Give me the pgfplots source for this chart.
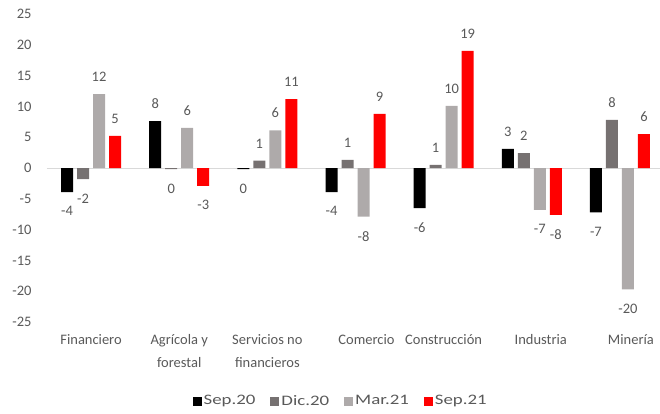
\documentclass[border=0pt]{standalone}
\usepackage{pgfplots}
\pgfplotsset{compat=1.18}
\usepackage{pgfplotstable}
\usepackage{fontspec}
\setmainfont{Carlito}
\newfontfamily\legfont[FakeStretch=1.3]{Carlito}
\definecolor{txt}{HTML}{595959}
\definecolor{cA}{HTML}{000000}
\definecolor{cB}{HTML}{767171}
\definecolor{cC}{HTML}{AEAAAA}
\definecolor{cD}{HTML}{FF0000}
\definecolor{zl}{HTML}{D9D9D9}

\pgfplotstableread{
x y lab
0 -3.9 -4
1 7.6 8
2 -0.2 0
3 -3.9 -4
4 -6.5 -6
5 3.1 3
6 -7.2 -7
}\sepA
\pgfplotstableread{
x y lab
0 -1.8 -2
1 -0.2 0
2 1.2 1
3 1.3 1
4 0.5 1
5 2.4 2
6 7.8 8
}\dicB
\pgfplotstableread{
x y lab
0 12.0 12
1 6.5 6
2 6.1 6
3 -7.9 -8
4 10.1 10
5 -6.8 -7
6 -19.7 -20
}\marC
\pgfplotstableread{
x y lab
0 5.2 5
1 -2.9 -3
2 11.2 11
3 8.8 9
4 19.0 19
5 -7.6 -8
6 5.5 6
}\sepD

\begin{document}
\begin{tikzpicture}
\begin{axis}[
  scale only axis, width=617pt, height=308pt,
  ymin=-25, ymax=25, ytick={-25,-20,...,25},
  xmin=-0.5, xmax=6.5, xtick={0,...,6},
  xticklabels={Financiero,{Agrícola y\\forestal},{Servicios no\\financieros},\hspace*{22pt}Comercio,Construcción,\hspace*{18pt}Industria,\hspace*{22pt}Minería},
  axis line style={draw=none},
  major tick length=0pt,
  ybar=4pt, bar width=12pt,
  font=\fontsize{14.5}{23}\selectfont,
  /pgf/number format/assume math mode=true,
  ticklabel style={text=txt, font=\fontsize{14.5}{23}\selectfont},
  xticklabel style={align=center, anchor=north, yshift=-9pt},
  yticklabel style={anchor=east, xshift=-12pt},
  extra y ticks={0}, extra y tick labels={},
  extra y tick style={grid=major, major grid style={draw=zl, line width=1pt}},
  point meta=explicit symbolic,
  visualization depends on={rawy \as \myy},
  nodes near coords={\pgfplotspointmeta},
  every node near coord/.append style={text=txt, font=\fontsize{14.5}{17}\selectfont},
  every node near coord/.append code={\ifdim\myy pt<0pt\relax\pgfkeysalso{anchor=north,yshift=-11pt}\else\pgfkeysalso{anchor=south,yshift=9pt}\fi},
  legend style={at={(0.476,-0.2565)}, anchor=center, draw=none, fill=none,
    legend columns=4, font=\legfont\fontsize{14.5}{17}\selectfont, text=txt,
    /tikz/every even column/.append style={column sep=13pt}},
  legend image code/.code={\fill[#1] (0pt,-4.5pt) rectangle (9pt,4.5pt);},
]
\addplot[fill=cA, draw=none] table[x=x, y=y, meta=lab] {\sepA};
\addplot[fill=cB, draw=none] table[x=x, y=y, meta=lab] {\dicB};
\addplot[fill=cC, draw=none] table[x=x, y=y, meta=lab] {\marC};
\addplot[fill=cD, draw=none] table[x=x, y=y, meta=lab] {\sepD};
\legend{Sep.20, Dic.20, Mar.21, Sep.21}
\end{axis}
\pgfresetboundingbox
\path ([xshift=-47pt,yshift=-91pt]current axis.south west) rectangle ([xshift=-4pt,yshift=14pt]current axis.north east);
\end{tikzpicture}
\end{document}
